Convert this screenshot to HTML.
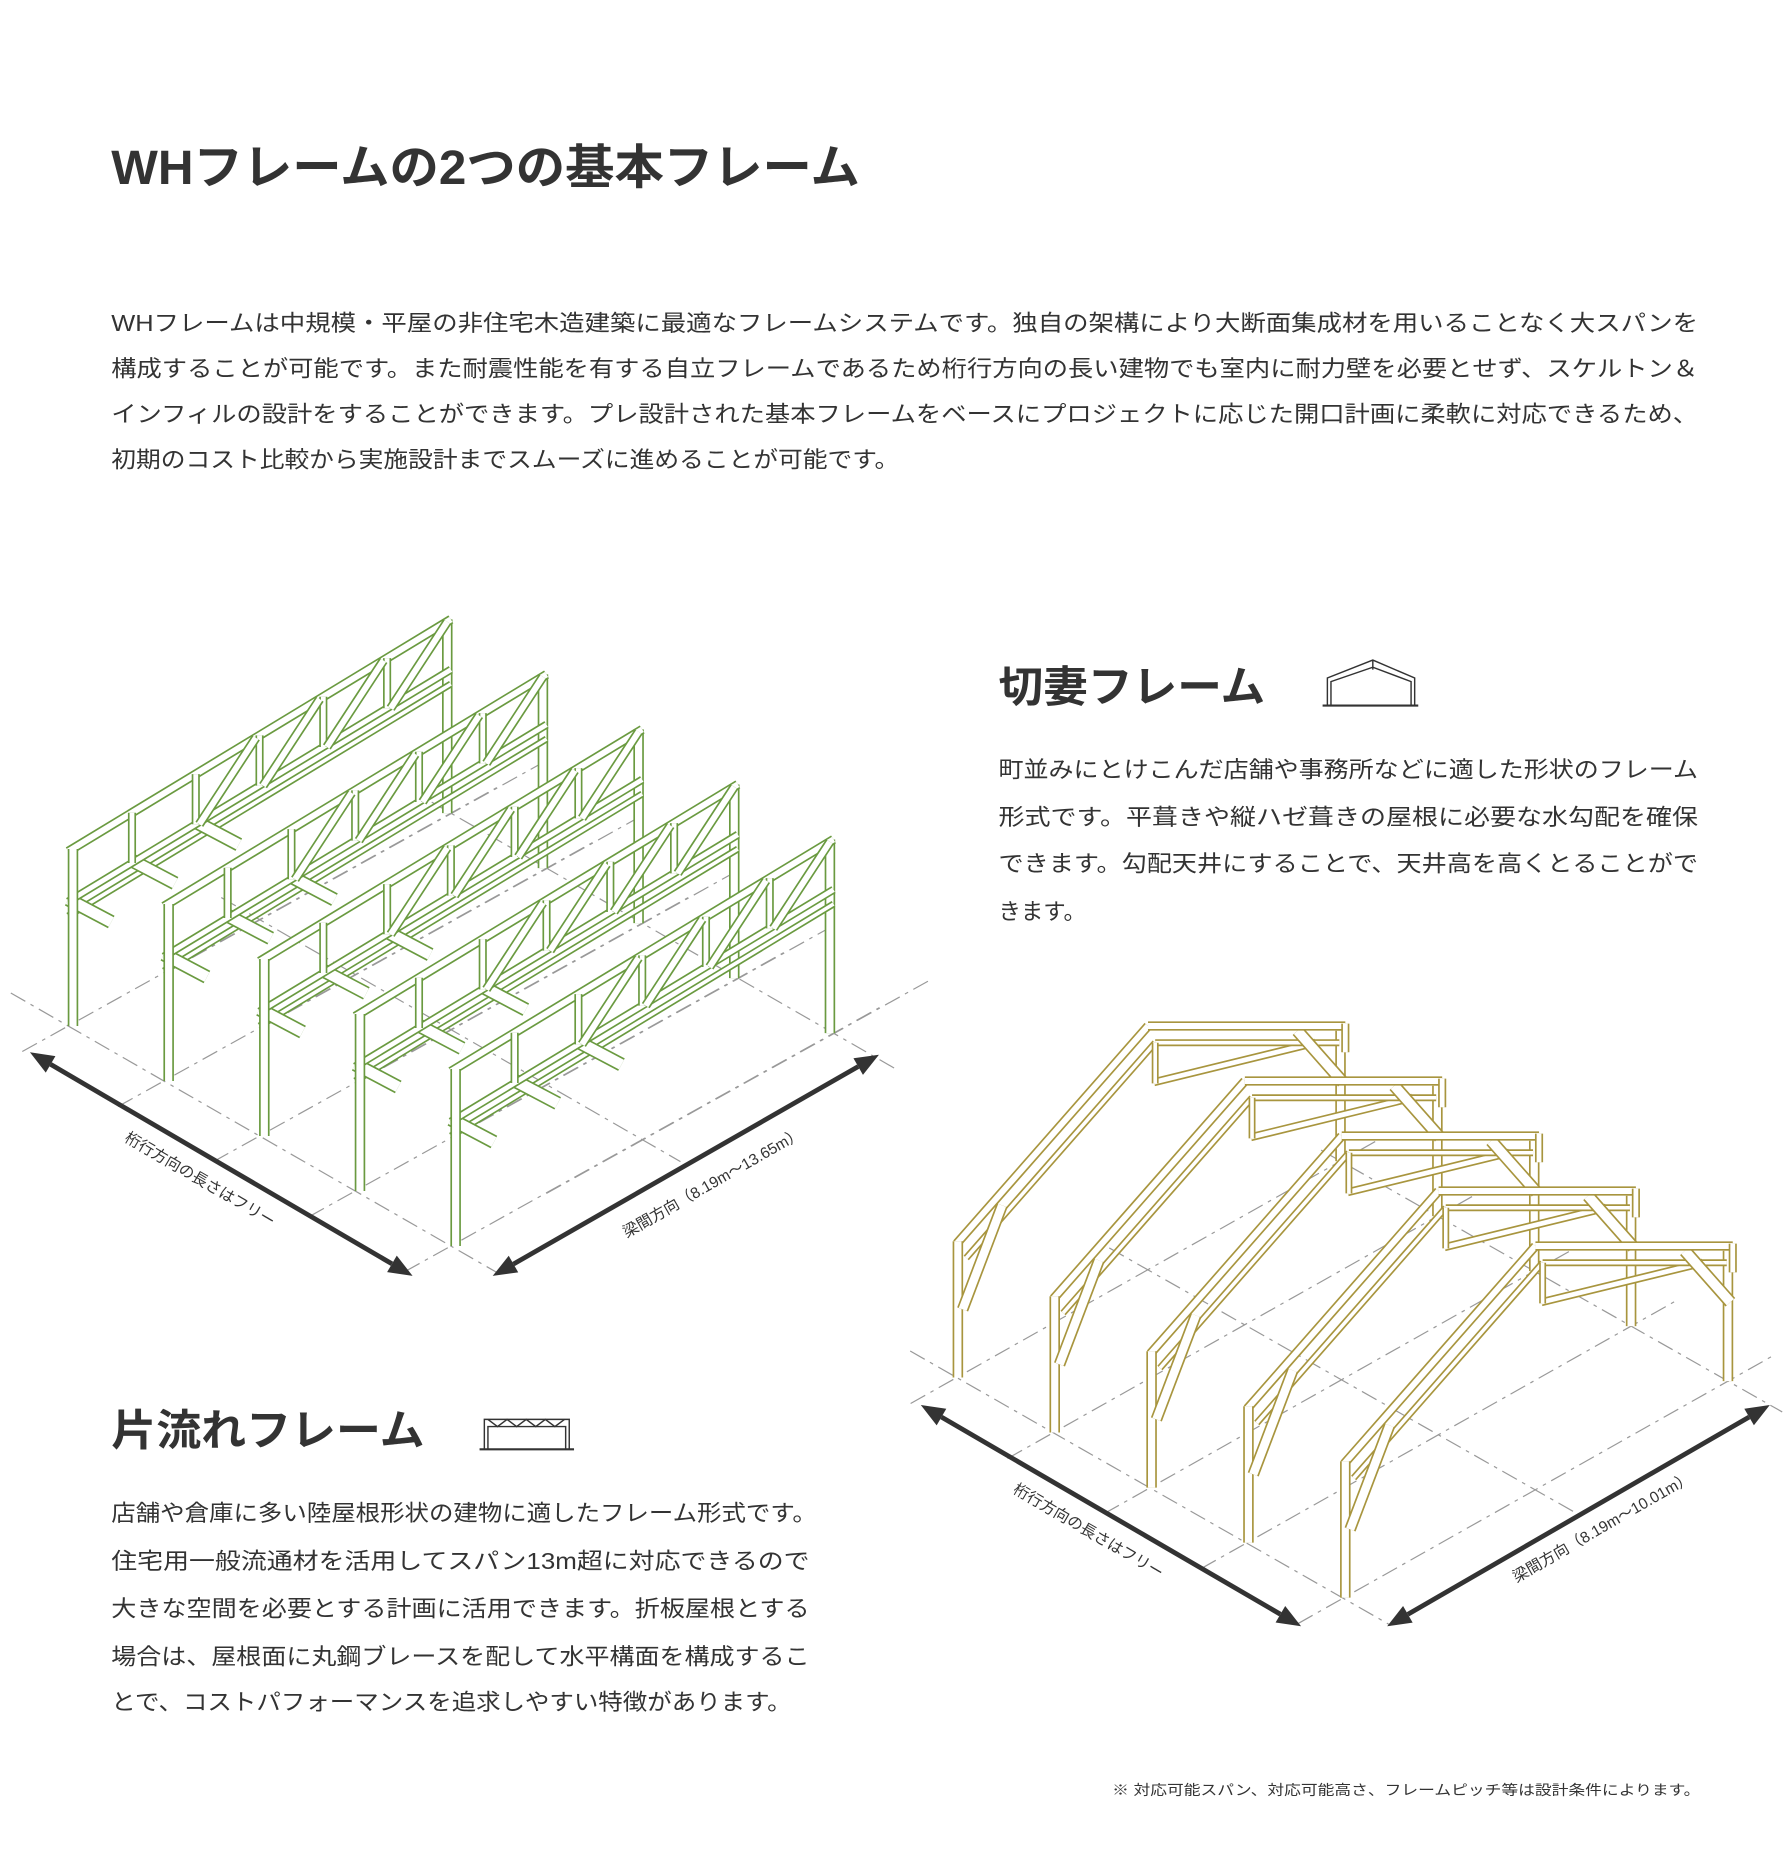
<!DOCTYPE html>
<html><head><meta charset="utf-8"><style>
html,body{margin:0;padding:0;background:#fff;}
svg{display:block;}
text{font-family:"Liberation Sans","Noto Sans CJK JP",sans-serif;fill:#333;}
</style></head><body>
<svg id="s" width="1789" height="1875" viewBox="0 0 1496 1568" xmlns="http://www.w3.org/2000/svg">
<text x="93" y="154" font-size="40" font-weight="bold" textLength="626" lengthAdjust="spacingAndGlyphs">WHフレームの2つの基本フレーム</text>
<g font-size="19">
<text x="93" y="277" textLength="1327" lengthAdjust="spacingAndGlyphs">WHフレームは中規模・平屋の非住宅木造建築に最適なフレームシステムです。独自の架構により大断面集成材を用いることなく大スパンを</text>
<text x="93" y="315" textLength="1327" lengthAdjust="spacingAndGlyphs">構成することが可能です。また耐震性能を有する自立フレームであるため桁行方向の長い建物でも室内に耐力壁を必要とせず、スケルトン＆</text>
<text x="93" y="353" textLength="1327" lengthAdjust="spacingAndGlyphs">インフィルの設計をすることができます。プレ設計された基本フレームをベースにプロジェクトに応じた開口計画に柔軟に対応できるため、</text>
<text x="93" y="391" textLength="659" lengthAdjust="spacingAndGlyphs">初期のコスト比較から実施設計までスムーズに進めることが可能です。</text>
</g>
<text x="835" y="587" font-size="36" font-weight="bold" textLength="223" lengthAdjust="spacingAndGlyphs">切妻フレーム</text>
<g font-size="19">
<text x="835" y="650" textLength="585" lengthAdjust="spacingAndGlyphs">町並みにとけこんだ店舗や事務所などに適した形状のフレーム</text>
<text x="835" y="690" textLength="585" lengthAdjust="spacingAndGlyphs">形式です。平葺きや縦ハゼ葺きの屋根に必要な水勾配を確保</text>
<text x="835" y="729" textLength="585" lengthAdjust="spacingAndGlyphs">できます。勾配天井にすることで、天井高を高くとることがで</text>
<text x="835" y="769" textLength="73" lengthAdjust="spacingAndGlyphs">きます。</text>
</g>
<text x="93" y="1209" font-size="36" font-weight="bold" textLength="262" lengthAdjust="spacingAndGlyphs">片流れフレーム</text>
<g font-size="19">
<text x="93" y="1272" textLength="590" lengthAdjust="spacingAndGlyphs">店舗や倉庫に多い陸屋根形状の建物に適したフレーム形式です。</text>
<text x="93" y="1312" textLength="584" lengthAdjust="spacingAndGlyphs">住宅用一般流通材を活用してスパン13m超に対応できるので</text>
<text x="93" y="1352" textLength="584" lengthAdjust="spacingAndGlyphs">大きな空間を必要とする計画に活用できます。折板屋根とする</text>
<text x="93" y="1392" textLength="584" lengthAdjust="spacingAndGlyphs">場合は、屋根面に丸鋼ブレースを配して水平構面を構成するこ</text>
<text x="93" y="1430" textLength="569" lengthAdjust="spacingAndGlyphs">とで、コストパフォーマンスを追求しやすい特徴があります。</text>
</g>
<text x="930" y="1501" font-size="12" textLength="492" lengthAdjust="spacingAndGlyphs">※ 対応可能スパン、対応可能高さ、フレームピッチ等は設計条件によります。</text>
<g stroke="#333" fill="none" stroke-width="1.2">
<line x1="1106" y1="590" x2="1186" y2="590" stroke-width="1.8"/>
<path d="M1110 590V567L1148 552L1183 567V590"/>
<path d="M1113 590V570L1148 558L1180 570V590"/>
<line x1="1148" y1="552" x2="1148" y2="560"/>
<line x1="401" y1="1212" x2="480" y2="1212" stroke-width="1.8"/>
<path d="M405 1212V1187H476V1212"/>
<path d="M408 1212V1193H473V1212"/>
<path d="M408 1187L416 1193L424 1187L432 1193L440 1187L448 1193L456 1187L464 1193L472 1187"/>
</g>
<g id="d"></g>
<text font-size="13" transform="translate(165,990) rotate(30.3)" text-anchor="middle">桁行方向の長さはフリー</text>
<text font-size="13" transform="translate(598,993) rotate(-29.8)" text-anchor="middle">梁間方向（8.19m～13.65m）</text>
<text font-size="13" transform="translate(908,1284) rotate(30.3)" text-anchor="middle">桁行方向の長さはフリー</text>
<text font-size="13" transform="translate(1342,1281) rotate(-30)" text-anchor="middle">梁間方向（8.19m～10.01m）</text>
</svg>
<script>
var o='';
function dash(x1,y1,x2,y2){o+='<line x1="'+x1+'" y1="'+y1+'" x2="'+x2+'" y2="'+y2+'" stroke="#999" stroke-width="1" stroke-dasharray="14 5 3 5"/>';}
function m(C,x1,y1,x2,y2,w){o+='<line x1="'+x1+'" y1="'+y1+'" x2="'+x2+'" y2="'+y2+'" stroke="'+C+'" stroke-width="'+(w+2.8)+'"/><line x1="'+x1+'" y1="'+y1+'" x2="'+x2+'" y2="'+y2+'" stroke="#fff" stroke-width="'+w+'"/>';}
function arrow(x1,y1,x2,y2){var dx=x2-x1,dy=y2-y1,L=Math.hypot(dx,dy),ux=dx/L,uy=dy/L,px=-uy,py=ux,h=20,w=8;
o+='<line x1="'+(x1+ux*h)+'" y1="'+(y1+uy*h)+'" x2="'+(x2-ux*h)+'" y2="'+(y2-uy*h)+'" stroke="#333" stroke-width="4"/>';
o+='<polygon fill="#333" points="'+x1+','+y1+' '+(x1+ux*h+px*w)+','+(y1+uy*h+py*w)+' '+(x1+ux*h-px*w)+','+(y1+uy*h-py*w)+'"/>';
o+='<polygon fill="#333" points="'+x2+','+y2+' '+(x2-ux*h+px*w)+','+(y2-uy*h+py*w)+' '+(x2-ux*h-px*w)+','+(y2-uy*h-py*w)+'"/>';}
function ext(x1,y1,x2,y2,a,b){var dx=x2-x1,dy=y2-y1;dash(x1-dx*a,y1-dy*a,x2+dx*b,y2+dy*b);}
for(var i=0;i<5;i++){var dx=80*i,dy=46*i;ext(57+dx,858+dy,377+dx,680+dy,0.12,0.12);}
for(var i=0;i<5;i++){var dx=80*i,dy=46*i;ext(137+dx,858-44+dy,457+dx,680-44+dy,0,0);}
ext(57,858,377,1042,0.15,0.12);ext(377,680,697,864,0.05,0.17);ext(217,769,537,953,0.1,0.1);
arrow(25,880,345,1067);arrow(412,1067,735,882);
var G='#6a9a40';
for(var i=0;i<5;i++){var dx=80*i,dy=46*i;var Lx=57+dx,Ly=712+dy;
 function p(t,d){return [Lx+t*320,Ly-t*194+d];}
 m(G,377+dx-3,518+dy,377+dx-3,680+dy,6);
 var a=p(0,54),b=p(1,54);m(G,a[0],a[1],b[0],b[1],3);
 for(var k=0;k<3;k++){var q=p(k/6,40);m(G,q[0],q[1],q[0]+36,q[1]+19,9);}
 a=p(0,0);b=p(1,0);m(G,a[0],a[1],b[0],b[1],5);
 a=p(0,42);b=p(1,42);m(G,a[0],a[1],b[0],b[1],4);
 for(var k=1;k<6;k++){a=p(k/6,0);b=p(k/6,42);m(G,a[0],a[1],b[0],b[1],4);}
 for(var k=2;k<6;k++){a=p(k/6,42);b=p((k+1)/6,0);m(G,a[0]+3,a[1],b[0]-3,b[1]+2,5);}
 m(G,Lx+4,Ly-2,Lx+4,858+dy,6);
}
for(var i=0;i<5;i++){var dx=81*i,dy=46*i;ext(800+dx,1152+dy,1121+dx,971+dy,0.12,0.12);}
ext(800,1152,1124,1337,0.12,0.12);ext(1121,971,1445,1155,0.05,0.14);ext(960,1062,1284,1246,0.1,0.1);
arrow(770,1175,1088,1360);arrow(1160,1360,1480,1175);
var Y='#a8953e';
for(var i=0;i<5;i++){var dx=81*i,dy=46*i;
 function M(x1,y1,x2,y2,w){m(Y,x1+dx,y1+dy,x2+dx,y2+dy,w);}
 M(1121,862,1121,971,6);
 M(965,905,1100,872,4);
 M(808,1052,966,872,3);
 M(966,872,1120,872,3);
 M(966,872,966,906,3);
 M(1085,862,1123,905,8);
 M(800,1040,960,858,5);
 M(960,858,1125,858,5);
 M(1125,856,1125,880,4);
 M(801,1038,801,1152,6);
 M(805,1095,838,1008,7);
}
document.getElementById('d').innerHTML=o;
</script>
</body></html>
